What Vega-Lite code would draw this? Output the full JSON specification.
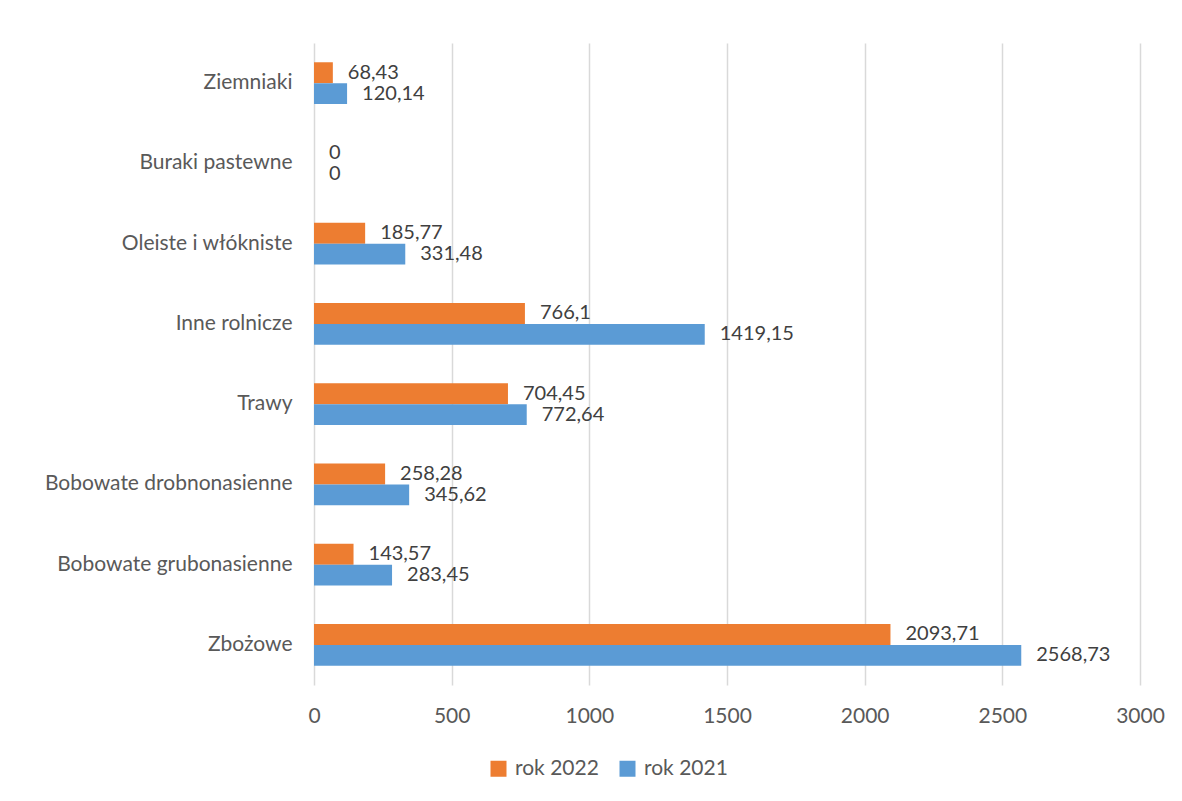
{
  "$schema": "https://vega.github.io/schema/vega-lite/v6.json",
  "autosize": {"type": "none"},
  "width": 826,
  "height": 642,
  "padding": {"left": 314, "top": 43, "right": 42, "bottom": 116},
  "background": "white",
  "config": {
    "locale": {"number": {"decimal": ",", "thousands": " ", "grouping": [3], "currency": ["", " zł"]}},
    "view": {"stroke": null},
    "font": "Lato"
  },
  "data": {
    "values": [
      {"kategoria": "Ziemniaki", "rok": "rok 2022", "wartosc": 68.43},
      {"kategoria": "Ziemniaki", "rok": "rok 2021", "wartosc": 120.14},
      {"kategoria": "Buraki pastewne", "rok": "rok 2022", "wartosc": 0},
      {"kategoria": "Buraki pastewne", "rok": "rok 2021", "wartosc": 0},
      {"kategoria": "Oleiste i włókniste", "rok": "rok 2022", "wartosc": 185.77},
      {"kategoria": "Oleiste i włókniste", "rok": "rok 2021", "wartosc": 331.48},
      {"kategoria": "Inne rolnicze", "rok": "rok 2022", "wartosc": 766.1},
      {"kategoria": "Inne rolnicze", "rok": "rok 2021", "wartosc": 1419.15},
      {"kategoria": "Trawy", "rok": "rok 2022", "wartosc": 704.45},
      {"kategoria": "Trawy", "rok": "rok 2021", "wartosc": 772.64},
      {"kategoria": "Bobowate drobnonasienne", "rok": "rok 2022", "wartosc": 258.28},
      {"kategoria": "Bobowate drobnonasienne", "rok": "rok 2021", "wartosc": 345.62},
      {"kategoria": "Bobowate grubonasienne", "rok": "rok 2022", "wartosc": 143.57},
      {"kategoria": "Bobowate grubonasienne", "rok": "rok 2021", "wartosc": 283.45},
      {"kategoria": "Zbożowe", "rok": "rok 2022", "wartosc": 2093.71},
      {"kategoria": "Zbożowe", "rok": "rok 2021", "wartosc": 2568.73}
    ]
  },
  "encoding": {
    "y": {
      "field": "kategoria", "type": "nominal",
      "sort": ["Ziemniaki", "Buraki pastewne", "Oleiste i włókniste", "Inne rolnicze", "Trawy", "Bobowate drobnonasienne", "Bobowate grubonasienne", "Zbożowe"],
      "scale": {"paddingInner": 0.48, "paddingOuter": 0.24},
      "axis": {"title": null, "domain": false, "ticks": false, "labelFontSize": 21, "labelColor": "#595959", "labelPadding": 22, "labelFont": "Lato", "labelLimit": 0}
    },
    "yOffset": {
      "field": "rok", "type": "nominal",
      "sort": ["rok 2022", "rok 2021"],
      "scale": {"paddingInner": 0, "paddingOuter": 0}
    },
    "x": {
      "field": "wartosc", "type": "quantitative",
      "scale": {"domain": [0, 3000], "nice": false},
      "axis": {"title": null, "domain": false, "ticks": false, "values": [0, 500, 1000, 1500, 2000, 2500, 3000], "format": "d", "labelFontSize": 21, "labelColor": "#595959", "labelPadding": 20, "labelFlush": false, "gridColor": "#d9d9d9", "gridWidth": 1.5, "labelFont": "Lato"}
    }
  },
  "layer": [
    {
      "mark": {"type": "bar"},
      "encoding": {
        "color": {
          "field": "rok", "type": "nominal",
          "scale": {"domain": ["rok 2022", "rok 2021"], "range": ["#ED7D31", "#5B9BD5"]},
          "legend": {"title": null, "orient": "none", "direction": "horizontal", "legendX": 174, "legendY": 715, "symbolType": "square", "symbolSize": 256, "symbolStrokeWidth": 0, "labelFontSize": 21, "labelColor": "#595959", "labelFont": "Lato", "columnPadding": 18, "labelOffset": 6}
        }
      }
    },
    {
      "mark": {"type": "text", "align": "left", "baseline": "middle", "dx": 15, "fontSize": 20, "color": "#404040", "font": "Lato"},
      "encoding": {
        "text": {"field": "wartosc", "type": "quantitative", "format": "~r"}
      }
    }
  ]
}
